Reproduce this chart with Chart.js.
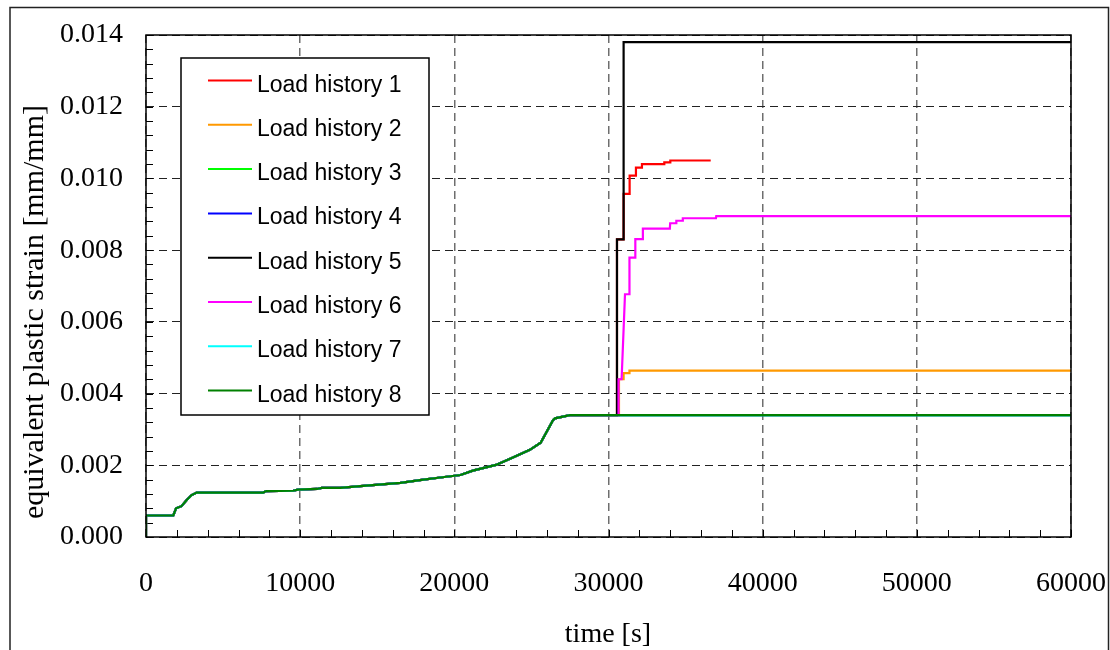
<!DOCTYPE html>
<html>
<head>
<meta charset="utf-8">
<script src="https://cdn.jsdelivr.net/npm/chart.js@4.4.1/dist/chart.umd.min.js"></script>
<style>
  html, body { margin: 0; padding: 0; background: #fff; }
  canvas { display: block; }
</style>
</head>
<body>
<canvas id="chart" width="1110" height="650"></canvas>
<script>
// Series names and colours
const seriesLabels = ['Load history 1', 'Load history 2', 'Load history 3', 'Load history 4',
                      'Load history 5', 'Load history 6', 'Load history 7', 'Load history 8'];
const seriesColors = ['#ff0000', '#ff9900', '#00ff00', '#0000ff',
                      '#000000', '#ff00ff', '#00ffff', '#008000'];

// Axis tick values
const xTickValues = [0, 10000, 20000, 30000, 40000, 50000, 60000];
const yTickValues = [0, 0.002, 0.004, 0.006, 0.008, 0.010, 0.012, 0.014];

// Shared path of all load histories up to ~30450 s
const commonTime   = [0, 0, 1770, 1950, 2300, 2640, 2960, 3290, 7600, 7800, 9550, 9850, 11100, 11400,
                      12600, 13900, 16500, 18000, 19100, 20400, 21200, 22700, 23800, 24900, 25600,
                      26400, 26530, 27500, 30450];
const commonStrain = [0, 0.0006, 0.0006, 0.0008, 0.00086, 0.00103, 0.00117, 0.00124, 0.00124, 0.00128,
                      0.00129, 0.00132, 0.00134, 0.00137, 0.00137, 0.00142, 0.00151, 0.0016, 0.00166,
                      0.00173, 0.00185, 0.00201, 0.00222, 0.00243, 0.00263, 0.00326, 0.00331, 0.0034,
                      0.0034];

// Individual continuations after the common path
const tail1Time   = [30530, 30550, 30960, 30980, 31350, 31370, 31760, 31780, 32150, 32170, 33600, 33620, 33990, 34010, 36630];
const tail1Strain = [0.0034, 0.0083, 0.0083, 0.00957, 0.00957, 0.01008, 0.01008, 0.0103, 0.0103, 0.0104, 0.0104, 0.01045, 0.01045, 0.0105, 0.0105];

const tail2Time   = [30660, 30680, 30960, 30980, 31340, 31360, 60000];
const tail2Strain = [0.0034, 0.0044, 0.0044, 0.00457, 0.00457, 0.00464, 0.00464];

const tail3Time   = [60000];
const tail3Strain = [0.0034];

const tail4Time   = [60000];
const tail4Strain = [0.0034];

const tail5Time   = [30530, 30550, 30960, 30980, 60000];
const tail5Strain = [0.0034, 0.0083, 0.0083, 0.0138, 0.0138];

const tail6Time   = [30630, 30650, 30850, 31070, 31340, 31360, 31720, 31740, 32210, 32230, 33980, 34000, 34380, 34400, 34800, 34820, 36970, 36990, 60000];
const tail6Strain = [0.0034, 0.0044, 0.0044, 0.00677, 0.00677, 0.00779, 0.00779, 0.00831, 0.00831, 0.0086, 0.0086, 0.00875, 0.00875, 0.00882, 0.00882, 0.00889, 0.00889, 0.00895, 0.00895];

const tail7Time   = [60000];
const tail7Strain = [0.0034];

const tail8Time   = [60000];
const tail8Strain = [0.0034];

const tails = [
  [tail1Time, tail1Strain], [tail2Time, tail2Strain], [tail3Time, tail3Strain], [tail4Time, tail4Strain],
  [tail5Time, tail5Strain], [tail6Time, tail6Strain], [tail7Time, tail7Strain], [tail8Time, tail8Strain]
];

function toPoints(times, values) {
  return times.map((t, k) => ({ x: t, y: values[k] }));
}

const datasets = seriesLabels.map((label, i) => ({
  label: label,
  data: toPoints(commonTime, commonStrain).concat(toPoints(tails[i][0], tails[i][1])),
  borderColor: seriesColors[i],
  backgroundColor: seriesColors[i],
  borderWidth: 2.2,
  pointRadius: 0,
  tension: 0,
  fill: false,
  // later histories are painted over earlier ones
  order: seriesLabels.length - i
}));

const serif = "'Liberation Serif', 'Times New Roman', serif";
const sans = "'Liberation Sans', Arial, sans-serif";

// Frame, inner minor ticks, axis titles and the boxed legend
const decorations = {
  id: 'decorations',
  beforeDraw(chart) {
    const ctx = chart.ctx;
    ctx.save();
    ctx.fillStyle = '#ffffff';
    ctx.fillRect(0, 0, chart.width, chart.height);
    ctx.strokeStyle = '#222';
    ctx.lineWidth = 1.5;
    ctx.strokeRect(10, 7.5, 1098.5, 700);
    ctx.restore();
  },
  beforeDatasetsDraw(chart) {
    const ctx = chart.ctx;
    const xs = chart.scales.x, ys = chart.scales.y;
    const a = chart.chartArea;
    ctx.save();
    ctx.strokeStyle = '#000';
    ctx.lineWidth = 1;
    ctx.beginPath();
    for (let t = 0; t <= 60000; t += 2000) {
      const px = Math.round(xs.getPixelForValue(t)) + 0.5;
      ctx.moveTo(px, a.bottom);
      ctx.lineTo(px, a.bottom - 7);
    }
    for (let k = 0; k <= 35; k++) {
      const py = Math.round(ys.getPixelForValue(k * 0.0004)) + 0.5;
      ctx.moveTo(a.left, py);
      ctx.lineTo(a.left + 7, py);
    }
    ctx.stroke();
    ctx.restore();
  },
  afterDatasetsDraw(chart) {
    const ctx = chart.ctx;
    const a = chart.chartArea;
    ctx.save();
    ctx.strokeStyle = '#000';
    ctx.lineWidth = 1.5;
    ctx.strokeRect(a.left, a.top, a.right - a.left, a.bottom - a.top);
    ctx.restore();
  },
  afterDraw(chart) {
    const ctx = chart.ctx;
    ctx.save();
    // axis titles
    ctx.fillStyle = '#000';
    ctx.font = '28px ' + serif;
    ctx.textAlign = 'center';
    ctx.textBaseline = 'alphabetic';
    ctx.fillText('time [s]', 608, 642);
    ctx.save();
    ctx.translate(43, 312);
    ctx.rotate(-Math.PI / 2);
    ctx.font = '30px ' + serif;
    ctx.fillText('equivalent plastic strain [mm/mm]', 0, 0);
    ctx.restore();

    // legend box
    const bx = 181, by = 58, bw = 248, bh = 357;
    ctx.fillStyle = '#ffffff';
    ctx.fillRect(bx, by, bw, bh);
    ctx.strokeStyle = '#000';
    ctx.lineWidth = 1.5;
    ctx.strokeRect(bx, by, bw, bh);
    ctx.font = '23px ' + sans;
    ctx.textAlign = 'left';
    ctx.textBaseline = 'alphabetic';
    chart.data.datasets.forEach((ds, i) => {
      const yy = 80.5 + i * 44.3;
      ctx.strokeStyle = ds.borderColor;
      ctx.lineWidth = 2;
      ctx.beginPath();
      ctx.moveTo(208, yy);
      ctx.lineTo(252, yy);
      ctx.stroke();
      ctx.fillStyle = '#000';
      ctx.fillText(ds.label, 257, yy + 11);
    });
    ctx.restore();
  }
};

new Chart(document.getElementById('chart'), {
  type: 'line',
  data: { datasets: datasets },
  options: {
    responsive: false,
    animation: false,
    devicePixelRatio: 1,
    layout: { padding: { left: 0, right: 39, top: 35, bottom: 0 } },
    plugins: {
      legend: { display: false },
      title: { display: false },
      tooltip: { enabled: false }
    },
    scales: {
      x: {
        type: 'linear',
        min: 0,
        max: 60000,
        afterBuildTicks: (scale) => { scale.ticks = xTickValues.map(v => ({ value: v })); },
        afterFit: (scale) => {
          scale.height = 113;
          scale.paddingLeft = 0;
          scale.paddingRight = 0;
        },
        ticks: {
          color: '#000',
          font: { family: serif, size: 28 },
          padding: 30,
          maxRotation: 0,
          callback: (v) => String(v)
        },
        grid: { color: '#6e6e6e', lineWidth: 1.5, drawTicks: false, borderDash: [8, 5] },
        border: { display: false, dash: [8, 5] }
      },
      y: {
        type: 'linear',
        min: 0,
        max: 0.014,
        afterBuildTicks: (scale) => { scale.ticks = yTickValues.map(v => ({ value: v })); },
        afterFit: (scale) => {
          scale.width = 146;
          scale.paddingTop = 0;
          scale.paddingBottom = 0;
        },
        ticks: {
          color: '#000',
          font: { family: serif, size: 28 },
          padding: 23,
          callback: (v) => Number(v).toFixed(3)
        },
        grid: { color: '#222', lineWidth: 1, drawTicks: false, borderDash: [8, 5] },
        border: { display: false, dash: [8, 5] }
      }
    }
  },
  plugins: [decorations]
});
</script>
</body>
</html>
